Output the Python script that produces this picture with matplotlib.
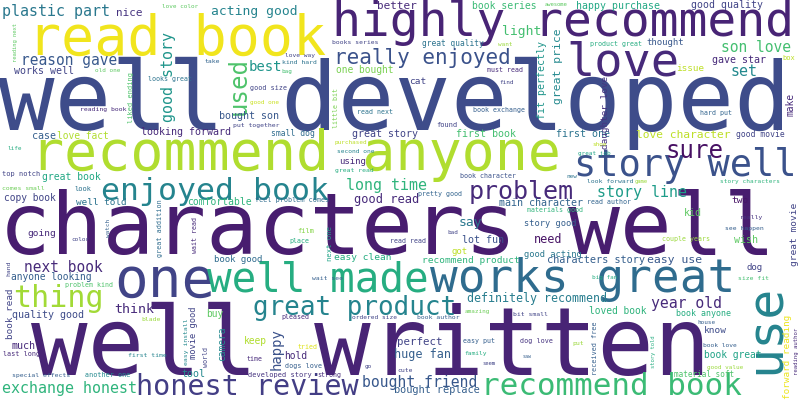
import matplotlib
matplotlib.use("Agg")
import matplotlib.pyplot as plt
import numpy as np

# word cloud data: phrase and its relative weight (as displayed)
words = [
    "well developed", "characters well", "well written", "highly recommend",
    "recommend anyone", "read book", "love", "one", "well made", "works great",
    "use", "great product", "honest review", "recommend book", "thing",
    "enjoyed book", "story well", "sure", "problem", "really enjoyed", "used",
    "plastic part", "acting good", "good story", "reason gave", "story line",
    "son love", "set", "best", "light", "long time", "good read", "next book",
    "year old", "exchange honest", "bought friend", "think", "happy", "say",
    "great price", "fit perfectly", "definitely recommend", "love character",
    "easy use", "huge fan", "need", "perfect", "book series", "happy purchase",
    "good quality", "better", "nice", "works well", "one bought", "bought son",
    "looking forward", "love fact", "case", "great story", "first book",
    "first one", "thought", "gave star", "issue", "make", "daughter love",
    "good movie", "great book", "copy book", "well told", "comfortable",
    "using", "main character", "story good", "lot fun", "got", "good acting",
    "recommend product", "characters story", "kid", "two", "wish",
    "great movie", "book good", "easy clean", "anyone looking", "quality good",
    "book read", "movie good", "much", "tool", "buy", "camera", "keep", "hold",
    "bought replace", "book great", "book anyone", "loved book", "know", "dog",
    "forward reading", "material soft", "great quality", "small dog",
    "little bit", "love color", "reading next", "old one", "looks great",
    "liked ending", "reading book", "take", "love way", "kind hard", "bag",
    "books series", "good size", "good one", "put together", "read next",
    "awesome", "want", "must read", "cat", "find", "book exchange", "found",
    "product great", "box", "hard put", "life", "top notch", "comes small",
    "look", "feel problem comes", "purchased", "second one", "great read",
    "new", "book character", "pretty good", "great job", "shoe", "game",
    "look forward", "read author", "story characters", "really", "see happen",
    "couple years", "materials good", "bad", "read read", "film", "place",
    "next one", "hand", "problem kind", "blade", "last long", "first time",
    "easy install", "special effects", "another one", "wait see", "pleased",
    "ordered size", "tried", "time", "world", "dogs love", "developed story",
    "strong", "go", "cute", "amazing", "book author", "bit small", "easy put",
    "family", "saw", "seem", "dog love", "put", "received free", "big fan",
    "size fit", "house", "story told", "book love", "good value",
    "reading author", "going", "color", "watch", "great addition", "wait read",
]

weights = [
    94, 86, 94, 48, 55, 55, 47, 56, 41, 46,
    50, 26, 28.5, 31, 30, 31.5, 37, 24, 25, 21, 24,
    15, 13, 15, 14.5, 15, 14.6, 15, 14, 13, 15, 12, 14.5,
    14.7, 15, 14.7, 13.3, 14, 13,
    11.4, 10, 11.6, 11.3, 11.5, 11.8, 11.8, 10.7, 9.8, 9.9,
    9.9, 11, 11, 10, 9.7, 10, 10, 9.6, 10, 10, 10,
    10, 9, 10, 9.3, 9.6, 9.4, 8, 9.8, 9.6, 9.4, 9.8,
    9, 10, 8.7, 10, 9, 8.8, 9.5, 10.3, 10, 9.5, 10,
    9.5, 9, 9.5, 9.6, 10, 9.3, 8.8, 10, 10, 9.6, 9.7, 9.6, 9.6,
    10.3, 9.7, 8.4, 9.7, 9.5, 9, 9.3, 7.7, 7.9, 8, 6.7,
    6, 5.5, 6, 6.7, 7, 6.5, 6.5, 6.3, 6.5, 6,
    6.4, 6.8, 6, 6.5, 6.7, 5.5, 6, 6.7, 9.5, 6, 6.7, 7,
    6.7, 7, 6.7, 6, 7, 6.5, 7, 6.8, 6, 6.3, 6.5,
    6, 6.6, 6.7, 6, 6, 5.5, 6.4, 6.7, 6.2, 6.5, 6.4,
    6.7, 6.6, 6, 6.6, 7, 6.7, 7.3, 6.5, 6.7, 6.5, 6.8, 6.5,
    6.5, 6.5, 6.8, 6.4, 6.7, 6.3, 6.7, 6.7, 6.7, 6.8, 7,
    6.7, 6, 6.4, 6, 6.4, 6.5, 6.6, 6.3, 5, 5.5, 6.8, 6.5, 6.8, 6,
    6.4, 6, 5.5, 6.3, 6,
    5.7, 9.5, 6, 6, 6.8, 6.7,
]

# layout: (x, y, vertical, viridis value)
# horizontal: x = left edge, y = baseline; vertical: x = baseline, y = bottom
layout = [
    (5, 130, 0, 0.23), (5, 254, 0, 0.08), (38, 375, 0, 0.10), (335, 36, 0, 0.10),
    (35, 170, 0, 0.88), (32, 55, 0, 0.98), (570, 76, 0, 0.12), (118, 297, 0, 0.20),
    (210, 292, 0, 0.62), (433, 292, 0, 0.35),
    (780, 370, 1, 0.45), (255, 315, 0, 0.45), (138, 395, 0, 0.18), (483, 395, 0, 0.68),
    (15, 307, 0, 0.86),
    (103, 200, 0, 0.45), (577, 176, 0, 0.25), (667, 158, 0, 0.04), (470, 199, 0, 0.12),
    (335, 64, 0, 0.25), (246, 113, 1, 0.72),
    (3, 16, 0, 0.40), (212, 15, 0, 0.45), (173, 121, 1, 0.52), (22, 65, 0, 0.27),
    (598, 197, 0, 0.55),
    (722, 52, 0, 0.70), (732, 76, 0, 0.47), (250, 71, 0, 0.52), (503, 35, 0, 0.70),
    (347, 190, 0, 0.65), (355, 203, 0, 0.12), (25, 272, 0, 0.12),
    (652, 308, 0, 0.12), (3, 393, 0, 0.65), (363, 387, 0, 0.27), (115, 313, 0, 0.12),
    (281, 369, 1, 0.25), (460, 226, 0, 0.40),
    (561, 103, 1, 0.47), (545, 118, 1, 0.52), (468, 302, 0, 0.42),
    (637, 138, 0, 0.90),
    (648, 263, 0, 0.27), (395, 358, 0, 0.30), (535, 243, 0, 0.05), (398, 345, 0, 0.20),
    (473, 9, 0, 0.68), (577, 9, 0, 0.60),
    (692, 8, 0, 0.20), (378, 9, 0, 0.12), (117, 16, 0, 0.15), (15, 74, 0, 0.20),
    (337, 73, 0, 0.80), (220, 119, 0, 0.27),
    (142, 135, 0, 0.12), (58, 139, 0, 0.88), (33, 139, 0, 0.30), (353, 137, 0, 0.20),
    (457, 137, 0, 0.70),
    (557, 137, 0, 0.38), (647, 45, 0, 0.27), (713, 63, 0, 0.12), (677, 71, 0, 0.90),
    (793, 115, 1, 0.12), (608, 148, 1, 0.15),
    (737, 137, 0, 0.20), (43, 180, 0, 0.60), (5, 201, 0, 0.20), (77, 205, 0, 0.38),
    (188, 205, 0, 0.65),
    (340, 164, 0, 0.12), (500, 206, 0, 0.32), (525, 226, 0, 0.30), (463, 243, 0, 0.25),
    (452, 254, 0, 0.90), (525, 257, 0, 0.40),
    (423, 263, 0, 0.65), (548, 263, 0, 0.30), (685, 216, 0, 0.75), (732, 203, 0, 0.05),
    (735, 243, 0, 0.75),
    (797, 265, 1, 0.20), (215, 262, 0, 0.35), (335, 260, 0, 0.62), (12, 280, 0, 0.30),
    (13, 318, 0, 0.23),
    (13, 338, 1, 0.20), (196, 358, 1, 0.20), (12, 349, 0, 0.12), (182, 377, 0, 0.47),
    (207, 317, 0, 0.75), (225, 360, 1, 0.47), (245, 344, 0, 0.88), (285, 359, 0, 0.12),
    (395, 393, 0, 0.30), (705, 358, 0, 0.58), (677, 316, 0, 0.62), (590, 314, 0, 0.65),
    (705, 333, 0, 0.23), (747, 270, 0, 0.20),
    (790, 398, 1, 0.97), (675, 377, 0, 0.72), (423, 46, 0, 0.38), (272, 136, 0, 0.35),
    (338, 128, 1, 0.80),
    (162, 8, 0, 0.75), (17, 62, 1, 0.75), (95, 72, 0, 0.75), (148, 81, 0, 0.38),
    (133, 123, 1, 0.72), (80, 111, 0, 0.12), (205, 63, 0, 0.32), (285, 57, 0, 0.20),
    (282, 64, 0, 0.38), (282, 73, 0, 0.70),
    (332, 44, 0, 0.20), (250, 90, 0, 0.20), (250, 104, 0, 0.92), (233, 127, 0, 0.20),
    (357, 114, 0, 0.38),
    (545, 6, 0, 0.75), (498, 46, 0, 0.85), (487, 72, 0, 0.12), (410, 84, 0, 0.20),
    (500, 84, 0, 0.20), (473, 112, 0, 0.30), (437, 127, 0, 0.20),
    (590, 46, 0, 0.62), (783, 60, 0, 0.90), (700, 115, 0, 0.32), (8, 150, 0, 0.62),
    (2, 176, 0, 0.20), (2, 190, 0, 0.78),
    (75, 191, 0, 0.38), (255, 202, 0, 0.35), (335, 144, 0, 0.90), (337, 153, 0, 0.45),
    (335, 172, 0, 0.62),
    (567, 178, 0, 0.38), (460, 178, 0, 0.25), (418, 196, 0, 0.32), (578, 155, 0, 0.58),
    (593, 146, 0, 0.90), (635, 183, 0, 0.85),
    (587, 183, 0, 0.38), (587, 204, 0, 0.32), (720, 183, 0, 0.65), (740, 219, 0, 0.15),
    (725, 230, 0, 0.30),
    (662, 241, 0, 0.85), (527, 212, 0, 0.65), (448, 234, 0, 0.20), (390, 243, 0, 0.20),
    (298, 233, 0, 0.82), (290, 243, 0, 0.62),
    (332, 260, 1, 0.58), (10, 276, 1, 0.20), (65, 287, 0, 0.72), (142, 321, 0, 0.85),
    (3, 356, 0, 0.12), (128, 357, 0, 0.45),
    (188, 365, 1, 0.47), (12, 377, 0, 0.30), (85, 377, 0, 0.47), (312, 280, 0, 0.30),
    (282, 319, 0, 0.12),
    (352, 319, 0, 0.20), (298, 349, 0, 0.95), (247, 361, 0, 0.12), (208, 367, 1, 0.20),
    (285, 368, 0, 0.30), (248, 377, 0, 0.15),
    (318, 377, 0, 0.12), (365, 368, 0, 0.20), (398, 372, 0, 0.20), (465, 313, 0, 0.78),
    (417, 319, 0, 0.30), (513, 316, 0, 0.20), (463, 343, 0, 0.30),
    (465, 355, 0, 0.62), (523, 358, 0, 0.30), (483, 365, 0, 0.20), (520, 343, 0, 0.15),
    (573, 345, 0, 0.85), (597, 375, 1, 0.30), (592, 279, 0, 0.62),
    (738, 280, 0, 0.70), (698, 324, 0, 0.30), (655, 368, 1, 0.62), (703, 347, 0, 0.30),
    (707, 369, 0, 0.85),
    (798, 375, 1, 0.12), (28, 236, 0, 0.12), (72, 241, 0, 0.20), (110, 237, 1, 0.30),
    (162, 257, 1, 0.35), (197, 253, 1, 0.12),
]

MAX_FONT_PX = 94
cmap = plt.get_cmap("viridis")

fig = plt.figure(figsize=(8, 4), dpi=100)
ax = fig.add_axes([0, 0, 1, 1])
ax.set_xlim(0, 800)
ax.set_ylim(400, 0)
ax.axis("off")

w = np.array(weights, dtype=float)
font_px = w / w.max() * MAX_FONT_PX

for word, px, (x, y, vert, cval) in zip(words, font_px, layout):
    bearing = 0.07 * px
    if vert:
        ax.text(x, y + bearing, word, fontsize=px * 0.72, family="DejaVu Sans Mono",
                color=cmap(cval), rotation=90, rotation_mode="anchor",
                ha="left", va="baseline")
    else:
        ax.text(x - bearing, y, word, fontsize=px * 0.72, family="DejaVu Sans Mono",
                color=cmap(cval), ha="left", va="baseline")

fig.savefig("out.png", dpi=100, facecolor="white")
